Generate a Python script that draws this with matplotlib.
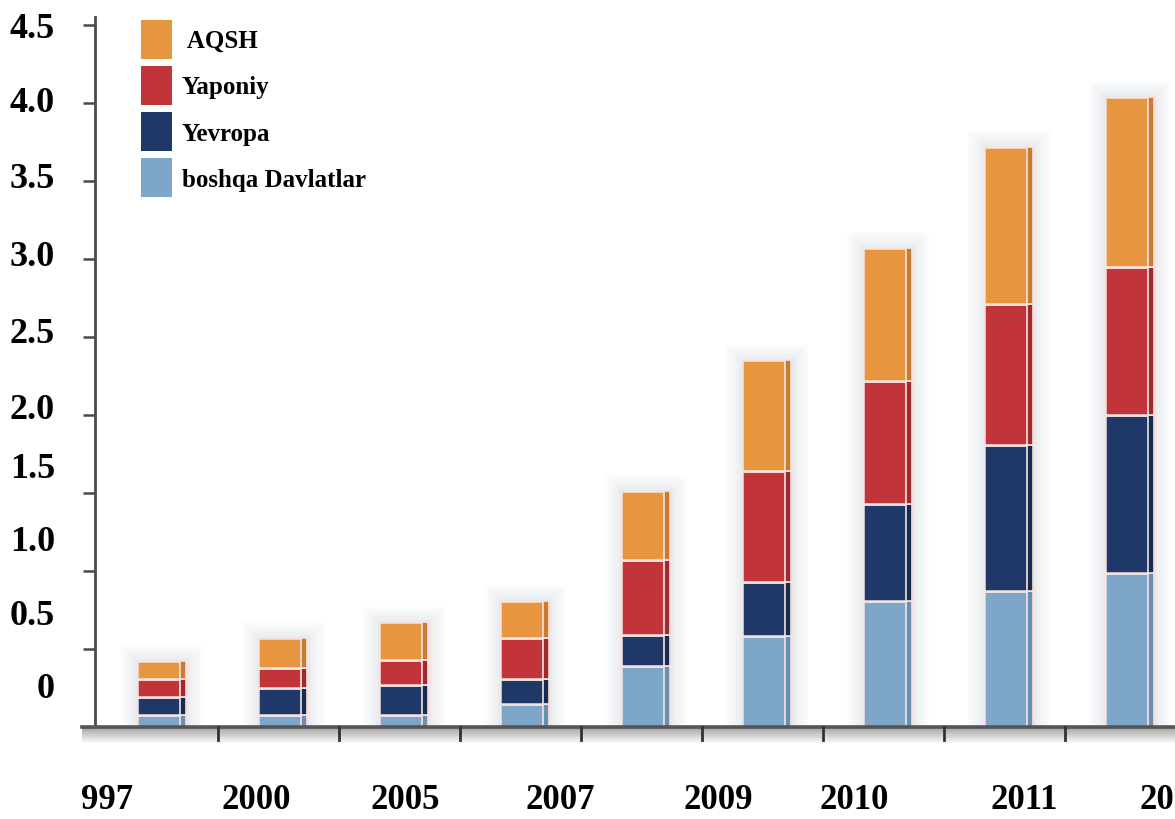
import numpy as np
import matplotlib.pyplot as plt
from matplotlib.patches import Patch
import matplotlib.transforms as mtransforms

# stacked values per bar (bottom to top)
other = [0.08, 0.08, 0.08, 0.15, 0.39, 0.58, 0.81, 0.87, 0.99]
europe = [0.11, 0.17, 0.19, 0.16, 0.20, 0.35, 0.62, 0.94, 1.01]
japan = [0.12, 0.13, 0.16, 0.26, 0.48, 0.71, 0.79, 0.90, 0.95]
usa = [0.11, 0.19, 0.24, 0.24, 0.44, 0.71, 0.85, 1.01, 1.09]

year_labels = ["997", "2000", "2005", "2007", "2009", "2010", "2011", "2012"]
ytick_values = [0, 0.5, 1.0, 1.5, 2.0, 2.5, 3.0, 3.5, 4.0, 4.5]
ytick_text = ["0", "0.5", "1.0", "1.5", "2.0", "2.5", "3.0", "3.5", "4.0", "4.5"]

series_names = ["boshqa Davlatlar", "Yevropa", "Yaponiy", " AQSH"]
colors = ["#7ea6c8", "#1e3867", "#c1343a", "#e8953f"]
side_colors = ["#6a8fb0", "#162b50", "#9e2a30", "#c97b30"]

serif = ["Liberation Serif", "DejaVu Serif"]

fig = plt.figure(figsize=(11.75, 8.2), dpi=100)
ax = fig.add_axes([95 / 1175, 92 / 820, 1080 / 1175, 710 / 820])

x = np.arange(len(other))
w = 0.42

# soft halo behind each column
totals = np.sum([other, europe, japan, usa], axis=0)
for k in range(6):
    ax.bar(x, totals + 0.02 * k, width=w + 0.05 * k, color="#b9c6d6",
           alpha=0.06, linewidth=0, zorder=1)

bottom = np.zeros(len(x))
for vals, c, sc in zip([other, europe, japan, usa], colors, side_colors):
    vals = np.array(vals)
    ax.bar(x, vals, width=w, bottom=bottom, color=c,
           edgecolor="#f4e4e2", linewidth=1.8, zorder=3)
    # darker right face for a slight depth effect
    ax.bar(x + w / 2 - 0.035, vals, width=0.05, bottom=bottom, color=sc,
           edgecolor="#f4e4e2", linewidth=1.2, zorder=4)
    bottom += vals

ax.set_xlim(-0.554, 8.372)
ax.set_ylim(0, 4.55)

for s in ["top", "right"]:
    ax.spines[s].set_visible(False)
ax.spines["left"].set_color("#4a4a4a")
ax.spines["left"].set_linewidth(2)
ax.spines["bottom"].set_visible(False)

# bottom axis line, running a little past the y axis
ax.plot([-0.012, 1], [0, 0], transform=ax.transAxes, color="#555555",
        lw=2.6, clip_on=False, zorder=5)

# grey strip under the axis
grad = np.linspace(0.55, 0.97, 20).reshape(-1, 1) * np.ones((1, 50))
ax.imshow(grad, cmap="gray", vmin=0, vmax=1, aspect="auto",
          extent=(-0.012, 1, -0.022, 0), transform=ax.transAxes,
          clip_on=False, zorder=2, alpha=0.8)

# separator ticks between columns
for sep in x[:-1] + 0.46:
    ax.plot([sep, sep], [0, -0.018], transform=ax.get_xaxis_transform(),
            color="#333333", lw=2, clip_on=False, zorder=5)

ax.set_xticks([])
ax.set_yticks(ytick_values)
ax.set_yticklabels([])
ax.tick_params(axis="y", direction="out", length=9, width=1.8, color="#4a4a4a")

# y labels, the lower ones sit above their ticks
label_shift_px = [38, 33, 29, 24, 5, 3, 2, 2, 0, -4]
blend = mtransforms.blended_transform_factory(fig.transFigure, ax.transData)
for v, t, dy in zip(ytick_values, ytick_text, label_shift_px):
    off = mtransforms.ScaledTranslation(0, dy / 100, fig.dpi_scale_trans)
    ax.text(55 / 1175, v, t, transform=blend + off, ha="right", va="center",
            fontsize=26, fontweight="bold", family=serif, clip_on=False)

# year labels under the axis
year_x_px = [107, 256, 405, 560, 718, 854, 1024, 1174]
for px, t in zip(year_x_px, year_labels):
    fig.text(px / 1175, 1 - 801 / 820, t, ha="center", va="center",
             fontsize=25, fontweight="bold", family=serif)

handles = [Patch(facecolor=c, edgecolor="none") for c in colors[::-1]]
ax.legend(handles, series_names[::-1], loc="upper left",
          bbox_to_anchor=(141 / 1175, 1 - 21 / 820),
          bbox_transform=fig.transFigure, frameon=False, borderpad=0,
          borderaxespad=0, handlelength=1.24, handleheight=2.0,
          handletextpad=0.4, labelspacing=0.3,
          prop={"family": serif, "weight": "bold", "size": 18})

fig.savefig("out.png", dpi=100)
